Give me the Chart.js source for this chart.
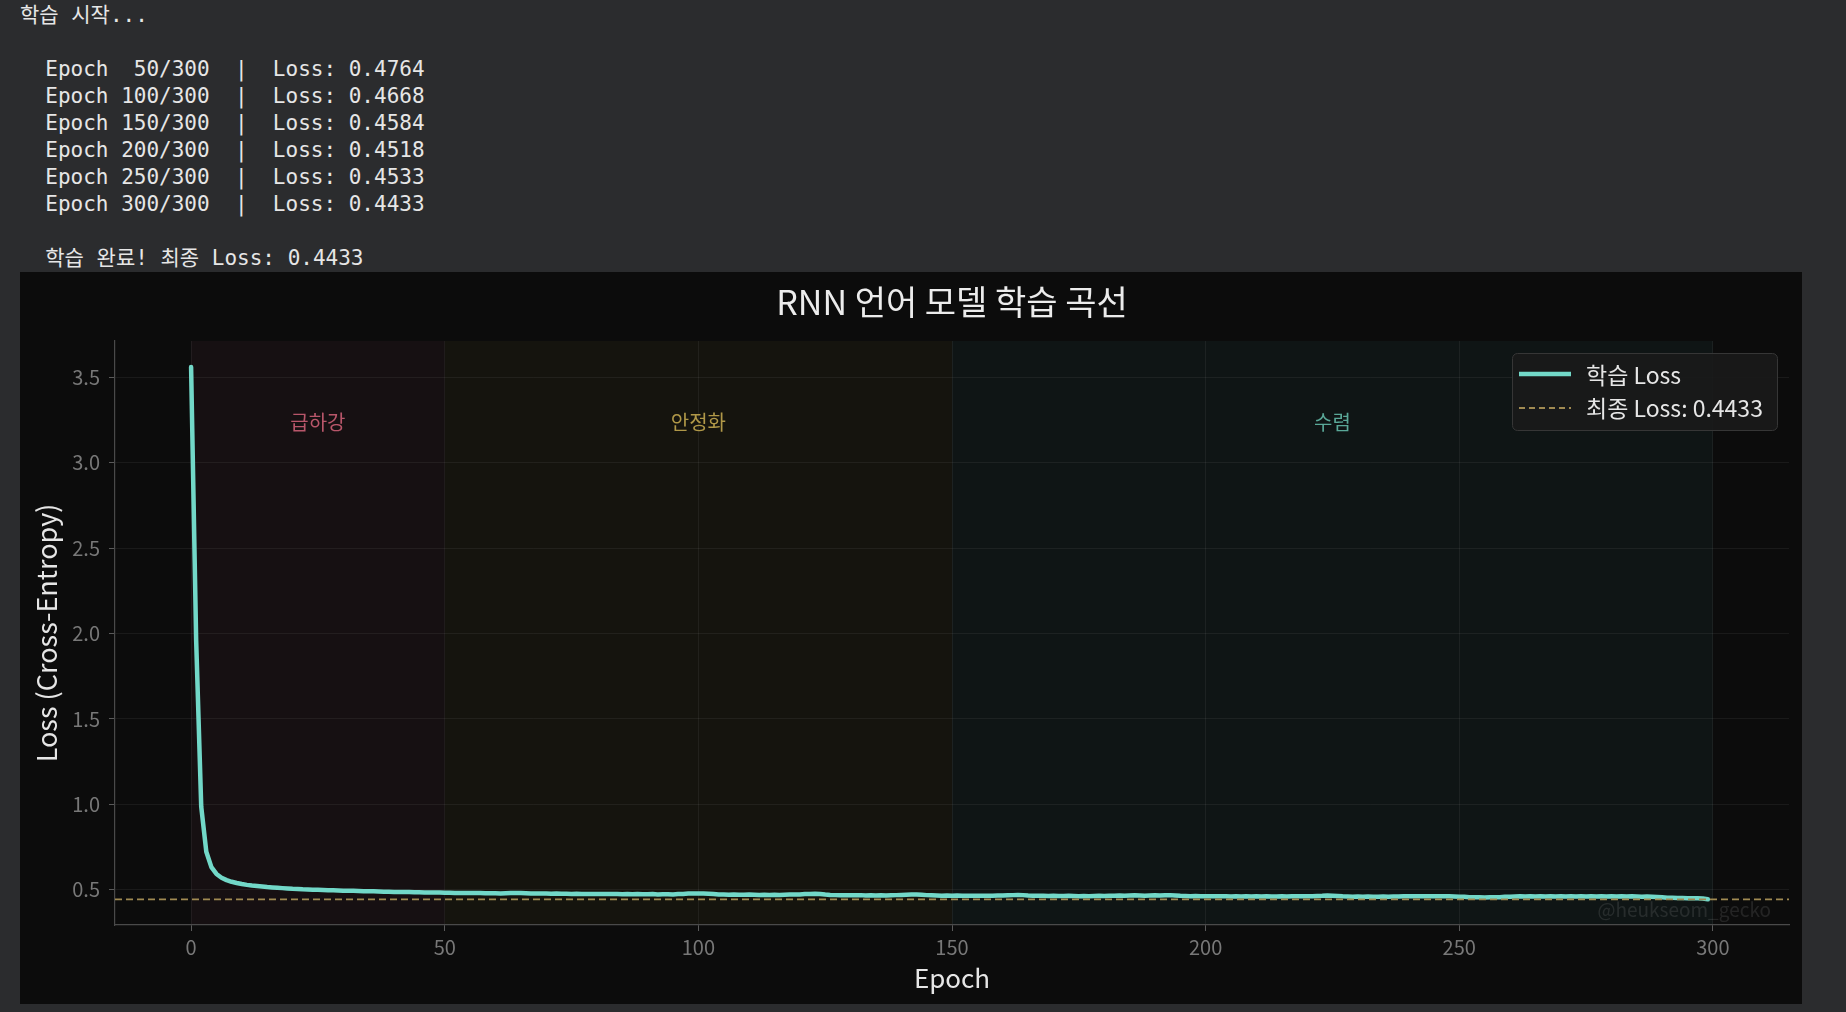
<!DOCTYPE html>
<html><head><meta charset="utf-8">
<script src="https://cdn.jsdelivr.net/npm/chart.js@4.4.1/dist/chart.umd.min.js"></script>
<style>
html,body{margin:0;padding:0;background:#2b2c2e;width:1846px;height:1012px;overflow:hidden;}
#log{position:absolute;left:20px;top:2px;margin:0;font-size:21px;line-height:27px;font-family:"DejaVu Sans Mono","Noto Sans CJK KR",monospace;color:#e6e6e6;white-space:pre;}
#panel{position:absolute;left:20px;top:272px;width:1782px;height:732px;background:#0c0c0c;}
canvas{display:block;}
</style></head><body>
<pre id="log"></pre>
<div id="panel"><canvas id="c" width="1782" height="732"></canvas></div>
<script>
// ---- console log data ----
const startMsg = "학습 시작...";
const logEpochs = [50, 100, 150, 200, 250, 300];
const logLosses = [0.4764, 0.4668, 0.4584, 0.4518, 0.4533, 0.4433];
const totalEpochs = 300;
const doneMsg = "학습 완료! 최종 Loss: ";

// ---- chart data ----
const chartTitle = "RNN 언어 모델 학습 곡선";
const seriesLabel = "학습 Loss";
const finalLoss = 0.4433;
const finalLabel = "최종 Loss: 0.4433";
const xTitle = "Epoch";
const yTitle = "Loss (Cross-Entropy)";
const xTicks = [0, 50, 100, 150, 200, 250, 300];
const yTicks = [0.5, 1.0, 1.5, 2.0, 2.5, 3.0, 3.5];
const phaseNames = ["급하강", "안정화", "수렴"];
const phaseStart = [0, 50, 150];
const phaseEnd = [50, 150, 300];
const phaseFill = ["#161012", "#15140e", "#0f1515"];
const phaseText = ["#b8566a", "#b09848", "#5aa898"];
const phaseLabelY = 3.24;
const watermark = "@heukseom_gecko";

// loss per epoch (index 0..299)
const lossValues = [
3.562,1.960,0.985,0.722,0.632,0.592,0.570,0.556,0.546,0.539,
0.533,0.528,0.524,0.521,0.518,0.515,0.513,0.511,0.509,0.507,
0.505,0.504,0.502,0.501,0.500,0.499,0.498,0.497,0.496,0.495,
0.494,0.493,0.493,0.492,0.491,0.490,0.490,0.489,0.488,0.488,
0.487,0.487,0.486,0.486,0.485,0.485,0.484,0.484,0.483,0.483,
0.482,0.482,0.481,0.481,0.481,0.480,0.480,0.480,0.479,0.479,
0.479,0.478,0.479,0.480,0.481,0.480,0.479,0.478,0.477,0.477,
0.477,0.476,0.477,0.476,0.476,0.475,0.476,0.475,0.475,0.474,
0.475,0.474,0.474,0.475,0.474,0.473,0.474,0.473,0.474,0.473,
0.473,0.474,0.472,0.473,0.473,0.472,0.474,0.475,0.477,0.478,
0.477,0.478,0.476,0.474,0.472,0.471,0.470,0.471,0.470,0.470,
0.471,0.470,0.469,0.470,0.469,0.470,0.469,0.470,0.471,0.472,
0.472,0.474,0.475,0.476,0.474,0.471,0.469,0.468,0.467,0.468,
0.467,0.467,0.468,0.466,0.467,0.466,0.467,0.466,0.467,0.468,
0.469,0.470,0.471,0.472,0.470,0.468,0.467,0.466,0.465,0.466,
0.465,0.466,0.465,0.464,0.465,0.464,0.465,0.464,0.465,0.466,
0.466,0.467,0.468,0.469,0.468,0.466,0.465,0.464,0.464,0.463,
0.464,0.463,0.463,0.464,0.463,0.462,0.463,0.462,0.463,0.464,
0.463,0.464,0.465,0.466,0.465,0.466,0.467,0.466,0.465,0.466,
0.467,0.466,0.467,0.468,0.466,0.464,0.463,0.462,0.463,0.462,
0.461,0.462,0.461,0.462,0.461,0.460,0.461,0.460,0.461,0.460,
0.461,0.460,0.461,0.460,0.460,0.461,0.460,0.461,0.462,0.461,
0.462,0.462,0.463,0.464,0.466,0.465,0.463,0.461,0.460,0.459,
0.460,0.459,0.460,0.459,0.459,0.460,0.459,0.460,0.460,0.461,
0.461,0.462,0.461,0.462,0.461,0.462,0.461,0.462,0.461,0.460,
0.459,0.458,0.456,0.455,0.455,0.454,0.455,0.455,0.456,0.458,
0.459,0.460,0.461,0.460,0.461,0.460,0.461,0.460,0.461,0.460,
0.461,0.460,0.461,0.460,0.461,0.460,0.461,0.460,0.461,0.460,
0.461,0.460,0.461,0.460,0.461,0.460,0.459,0.460,0.459,0.457,
0.455,0.453,0.452,0.451,0.451,0.450,0.450,0.449,0.448,0.4433
];

// ---- console text ----
const lines = [startMsg, ""];
logEpochs.forEach((e, i) => {
  lines.push("  Epoch " + String(e).padStart(3, " ") + "/" + totalEpochs + "  |  Loss: " + logLosses[i].toFixed(4));
});
lines.push("");
lines.push("  " + doneMsg + finalLoss.toFixed(4));
document.getElementById("log").textContent = lines.join("\n");

// ---- chart ----
const FONT = '"Noto Sans CJK KR", "Noto Sans", sans-serif';
const lossPoints = lossValues.map((v, i) => ({x: i, y: v}));
const finalPoints = [{x: -15, y: finalLoss}, {x: 315, y: finalLoss}];

const phasePlugin = {
  id: "phases",
  beforeDraw(chart) {
    const {ctx, chartArea: a, scales: {x}} = chart;
    ctx.save();
    phaseStart.forEach((s, i) => {
      const x0 = x.getPixelForValue(s), x1 = x.getPixelForValue(phaseEnd[i]);
      ctx.fillStyle = phaseFill[i];
      ctx.fillRect(x0, a.top, x1 - x0, a.bottom - a.top);
    });
    // title centred over the plot area
    ctx.font = "34px " + FONT;
    ctx.fillStyle = "#ececec";
    ctx.textAlign = "center";
    ctx.textBaseline = "middle";
    ctx.fillText(chartTitle, (a.left + a.right) / 2, 30);
    ctx.restore();
  },
  beforeDatasetsDraw(chart) {
    const {ctx, scales: {x, y}} = chart;
    ctx.save();
    ctx.font = "20px " + FONT;
    ctx.textAlign = "center";
    ctx.textBaseline = "middle";
    phaseNames.forEach((n, i) => {
      ctx.fillStyle = phaseText[i];
      ctx.fillText(n, x.getPixelForValue((phaseStart[i] + phaseEnd[i]) / 2), y.getPixelForValue(phaseLabelY));
    });
    ctx.restore();
  },
  afterDraw(chart) {
    const {ctx, chartArea: a} = chart;
    ctx.save();
    // watermark
    ctx.font = "19px " + FONT;
    ctx.fillStyle = "rgba(255,255,255,0.10)";
    ctx.textAlign = "right";
    ctx.textBaseline = "middle";
    ctx.fillText(watermark, a.right - 18, a.bottom - 15);
    // legend
    const bw = 265, bh = 77, bx = a.right - 12 - bw, by = a.top + 12;
    ctx.fillStyle = "rgba(26,26,26,0.9)";
    ctx.strokeStyle = "#363636";
    ctx.lineWidth = 1;
    ctx.beginPath();
    ctx.roundRect(bx + 0.5, by + 0.5, bw, bh, 5);
    ctx.fill();
    ctx.stroke();
    const r1 = by + 21, r2 = by + 55;
    ctx.lineCap = "butt";
    ctx.strokeStyle = "#72d8c8";
    ctx.lineWidth = 4.5;
    ctx.beginPath(); ctx.moveTo(bx + 7, r1); ctx.lineTo(bx + 59, r1); ctx.stroke();
    ctx.strokeStyle = "#a08a52";
    ctx.lineWidth = 1.8;
    ctx.setLineDash([6, 4]);
    ctx.beginPath(); ctx.moveTo(bx + 7, r2); ctx.lineTo(bx + 59, r2); ctx.stroke();
    ctx.setLineDash([]);
    ctx.font = "23px " + FONT;
    ctx.fillStyle = "#e6e6e6";
    ctx.textAlign = "left";
    ctx.fillText(seriesLabel, bx + 74, r1 + 1);
    ctx.fillText(finalLabel, bx + 74, r2);
    ctx.restore();
  }
};

new Chart(document.getElementById("c"), {
  type: "line",
  data: {
    datasets: [
      {label: finalLabel, data: finalPoints, borderColor: "#a08a52", borderWidth: 1.8,
       borderDash: [7, 4], pointRadius: 0, order: 0, tension: 0},
      {label: seriesLabel, data: lossPoints, borderColor: "#72d8c8", borderWidth: 4.5,
       pointRadius: 0, order: 1, tension: 0, borderJoinStyle: "round", borderCapStyle: "round"}
    ]
  },
  options: {
    responsive: false,
    animation: false,
    devicePixelRatio: 1,
    layout: {padding: {left: 0, right: 13, top: 69, bottom: 0}},
    plugins: {
      legend: {display: false},
      tooltip: {enabled: false},
      title: {display: false}
    },
    scales: {
      x: {
        type: "linear", min: -15, max: 315,
        afterFit(s) { s.height = 79; },
        afterBuildTicks(s) { s.ticks = xTicks.map(v => ({value: v})); },
        ticks: {color: "#787878", font: {family: FONT, size: 20}, padding: 4, maxRotation: 0},
        grid: {color: "rgba(255,255,255,0.06)", tickColor: "#5a5a5a", tickLength: 6, lineWidth: 1},
        border: {display: true, color: "#4a4a4a", width: 1.2},
        title: {display: true, text: xTitle, color: "#e6e6e6",
                font: {family: FONT, size: 26, lineHeight: 1.2}, padding: {top: 0, bottom: 10}}
      },
      y: {
        type: "linear", min: 0.293, max: 3.714,
        afterFit(s) { s.width = 95; },
        afterBuildTicks(s) { s.ticks = yTicks.map(v => ({value: v})); },
        ticks: {color: "#787878", font: {family: FONT, size: 20}, padding: 9,
                callback: v => Number(v).toFixed(1)},
        grid: {color: "rgba(255,255,255,0.06)", tickColor: "#5a5a5a", tickLength: 6, lineWidth: 1},
        border: {display: true, color: "#4a4a4a", width: 1.2},
        title: {display: true, text: yTitle, color: "#e6e6e6",
                font: {family: FONT, size: 27, lineHeight: 1.2}, padding: {top: 11, bottom: 0}}
      }
    }
  },
  plugins: [phasePlugin]
});
</script>
</body></html>
